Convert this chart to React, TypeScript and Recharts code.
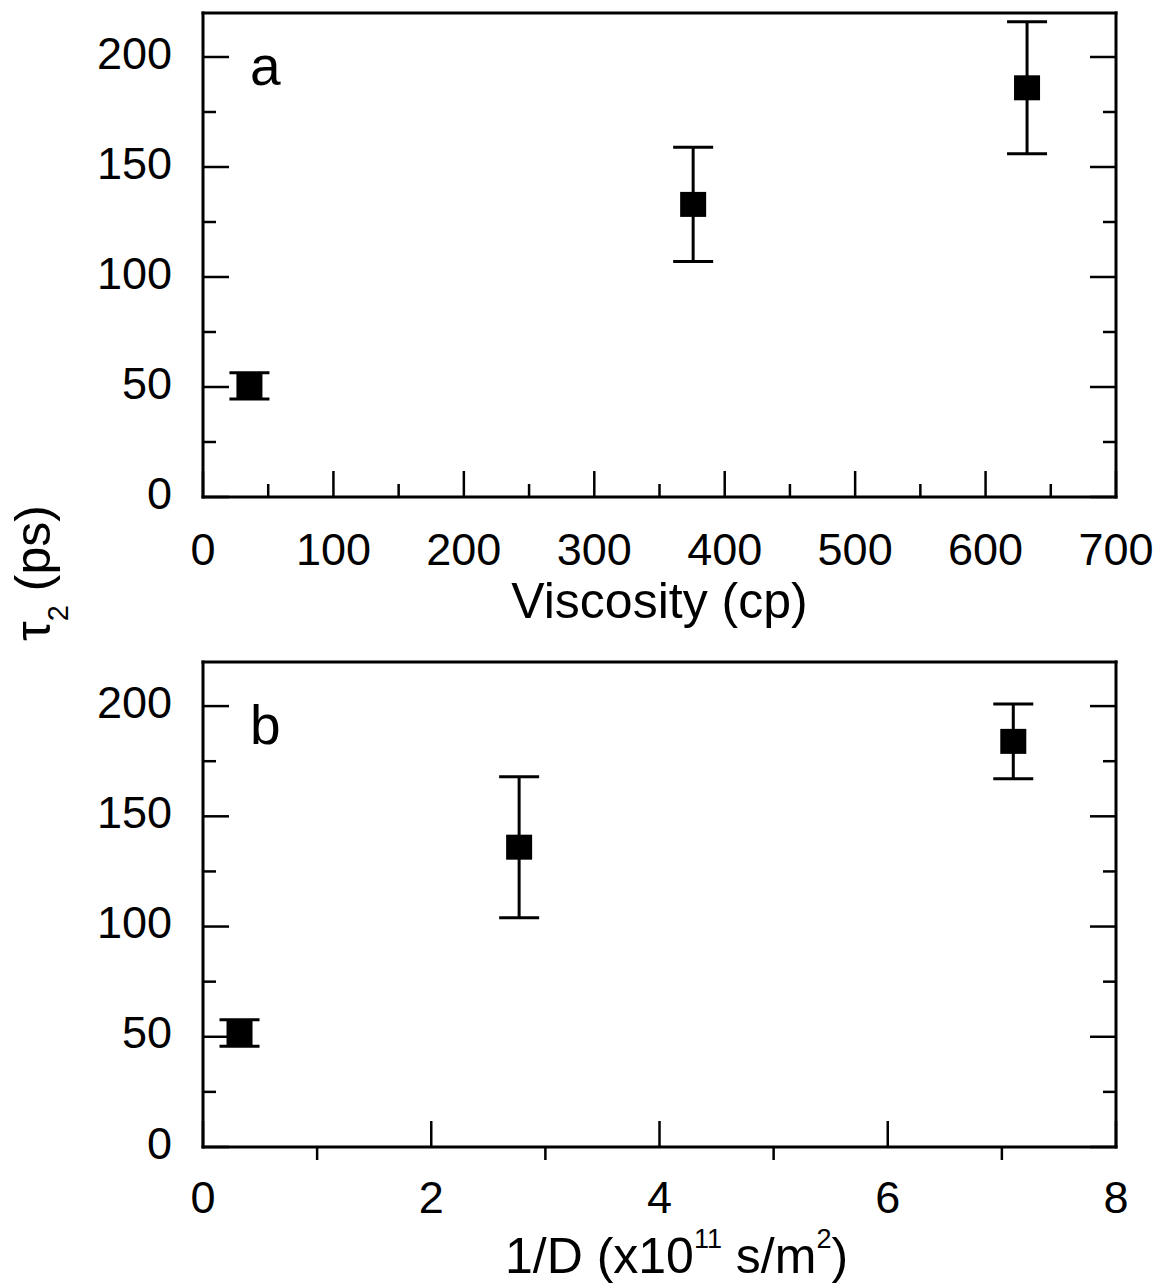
import React from 'react';
import { ScatterChart, Scatter, XAxis, YAxis, ErrorBar } from 'recharts';

// ---------- data ----------
const viscosity = [35.6, 375.8, 631.8];
const tauA = [50.5, 133, 186];
const errA = [6, 26, 30];

const inverseD = [0.32, 2.77, 7.1];
const tauB = [51.7, 136, 184];
const errB = [6, 32, 17];

const xTicksA = [0, 50, 100, 150, 200, 250, 300, 350, 400, 450, 500, 550, 600, 650, 700];
const xLabelsA = [0, 100, 200, 300, 400, 500, 600, 700];
const xTicksB = [0, 1, 2, 3, 4, 5, 6, 7, 8];
const xLabelsB = [0, 2, 4, 6, 8];
const yTicks = [0, 25, 50, 75, 100, 125, 150, 175, 200];
const yLabels = [0, 50, 100, 150, 200];

const dataA = viscosity.map((x, i) => ({ x, y: tauA[i], err: errA[i] }));
const dataB = inverseD.map((x, i) => ({ x, y: tauB[i], err: errB[i] }));

// ---------- style ----------
const FONT = "'Liberation Sans', Arial, Helvetica, sans-serif";
const TICK_FS = 45;
const TITLE_FS = 50;
const MAJOR = 26;
const MINOR = 13;
const TW = 2.5;
const AXIS_LINE = { stroke: '#000', strokeWidth: 3, strokeLinecap: 'square' as const };

const BottomTick = (labels: number[], minorOut: boolean, labelDy: number) => (props: any) => {
  const { x, y, payload } = props;
  const v = payload.value;
  const major = labels.includes(v);
  const y2 = major ? y - MAJOR : minorOut ? y + MINOR : y - MINOR;
  return (
    <g>
      <line x1={x} x2={x} y1={y} y2={y2} stroke="#000" strokeWidth={TW} />
      {major && (
        <text x={x} y={y + labelDy} textAnchor="middle" fontSize={TICK_FS} fontFamily={FONT} fill="#000">
          {v}
        </text>
      )}
    </g>
  );
};

const TopTick = (labels: number[]) => (props: any) => {
  const { x, y, payload } = props;
  const major = labels.includes(payload.value);
  return <line x1={x} x2={x} y1={y} y2={y + (major ? MAJOR : MINOR)} stroke="#000" strokeWidth={TW} />;
};

const LeftTick = (props: any) => {
  const { x, y, payload } = props;
  const v = payload.value;
  const major = yLabels.includes(v);
  return (
    <g>
      <line x1={x} x2={x + (major ? MAJOR : MINOR)} y1={y} y2={y} stroke="#000" strokeWidth={TW} />
      {major && (
        <text x={x - 31} y={y + 11.5} textAnchor="end" fontSize={TICK_FS} fontFamily={FONT} fill="#000">
          {v}
        </text>
      )}
    </g>
  );
};

const RightTick = (props: any) => {
  const { x, y, payload } = props;
  const major = yLabels.includes(payload.value);
  return <line x1={x} x2={x - (major ? MAJOR : MINOR)} y1={y} y2={y} stroke="#000" strokeWidth={TW} />;
};

const SquareShape = (props: any) => {
  const { cx, cy } = props;
  if (cx == null || cy == null) return null;
  return <rect x={cx - 13} y={cy - 12.5} width={26} height={25} fill="#000" />;
};

type PanelProps = {
  data: { x: number; y: number; err: number }[];
  xDomain: [number, number];
  xTicks: number[];
  xLabels: number[];
  minorOut: boolean;
  height: number;
  bottomH: number;
  letter: string;
  letterDy: number;
  title: React.ReactNode;
  titleDy: number;
  titleDx: number;
  labelDy: number;
  yTitle?: boolean;
};

const Panel = (p: PanelProps) => (
  <ScatterChart width={1158} height={p.height} margin={{ top: 0, right: 0, bottom: 0, left: 0 }}>
    <XAxis
      type="number"
      dataKey="x"
      xAxisId="b"
      orientation="bottom"
      domain={p.xDomain}
      ticks={p.xTicks}
      interval={0}
      height={p.bottomH}
      tickSize={0}
      tickMargin={0}
      tickLine={false}
      axisLine={AXIS_LINE}
      tick={BottomTick(p.xLabels, p.minorOut, p.labelDy)}
      allowDataOverflow
      label={(lp: any) => {
        const vb = lp.viewBox;
        return (
          <text
            x={vb.x + vb.width / 2 + p.titleDx}
            y={vb.y + p.titleDy}
            textAnchor="middle"
            fontSize={TITLE_FS}
            fontFamily={FONT}
            fill="#000"
          >
            {p.title}
          </text>
        );
      }}
    />
    <XAxis
      type="number"
      xAxisId="t"
      orientation="top"
      domain={p.xDomain}
      ticks={p.xTicks}
      interval={0}
      height={13}
      tickSize={0}
      tickMargin={0}
      tickLine={false}
      axisLine={AXIS_LINE}
      tick={TopTick(p.xLabels)}
      allowDataOverflow
      label={(lp: any) => {
        const vb = lp.viewBox;
        return (
          <text x={vb.x + 47} y={vb.y + vb.height + p.letterDy} fontSize={55} fontFamily={FONT} fill="#000">
            {p.letter}
          </text>
        );
      }}
    />
    <YAxis
      type="number"
      dataKey="y"
      yAxisId="l"
      orientation="left"
      domain={[0, 220]}
      ticks={yTicks}
      interval={0}
      width={203}
      tickSize={0}
      tickMargin={0}
      tickLine={false}
      axisLine={AXIS_LINE}
      tick={LeftTick}
      allowDataOverflow
      label={
        p.yTitle
          ? (lp: any) => (
              <text transform="translate(50, 573) rotate(-90)" textAnchor="middle" fontSize={TITLE_FS} fontFamily={FONT} fill="#000">
                τ
                <tspan fontSize={29} dy={18}>
                  2
                </tspan>
                <tspan dy={-18}> (ps)</tspan>
              </text>
            )
          : undefined
      }
    />
    <YAxis
      type="number"
      yAxisId="r"
      orientation="right"
      domain={[0, 220]}
      ticks={yTicks}
      interval={0}
      width={42}
      tickSize={0}
      tickMargin={0}
      tickLine={false}
      axisLine={AXIS_LINE}
      tick={RightTick}
      allowDataOverflow
    />
    <Scatter data={p.data} xAxisId="b" yAxisId="l" shape={SquareShape} isAnimationActive={false}>
      <ErrorBar dataKey="err" direction="y" width={20} stroke="#000" strokeWidth={3} isAnimationActive={false} />
    </Scatter>
  </ScatterChart>
);

export default function App() {
  return (
    <div style={{ position: 'absolute', left: 0, top: 0, width: 1158, height: 1284, background: '#fff' }}>
      <div style={{ position: 'absolute', left: 0, top: 0 }}>
        <Panel
          data={dataA}
          xDomain={[0, 700]}
          xTicks={xTicksA}
          xLabels={xLabelsA}
          minorOut={false}
          height={649}
          bottomH={152}
          letter="a"
          letterDy={72}
          title="Viscosity (cp)"
          titleDy={121}
          titleDx={0}
          labelDy={68}
          yTitle
        />
      </div>
      <div style={{ position: 'absolute', left: 0, top: 649 }}>
        <Panel
          data={dataB}
          xDomain={[0, 8]}
          xTicks={xTicksB}
          xLabels={xLabelsB}
          minorOut={true}
          height={635}
          bottomH={137}
          letter="b"
          letterDy={82}
          title={
            <>
              1/D (x10
              <tspan fontSize={27} dy={-25}>
                11
              </tspan>
              <tspan dy={25}> s/m</tspan>
              <tspan fontSize={27} dy={-25}>
                2
              </tspan>
              <tspan dy={25}>)</tspan>
            </>
          }
          titleDy={126}
          titleDx={17}
          labelDy={66}
        />
      </div>
    </div>
  );
}
